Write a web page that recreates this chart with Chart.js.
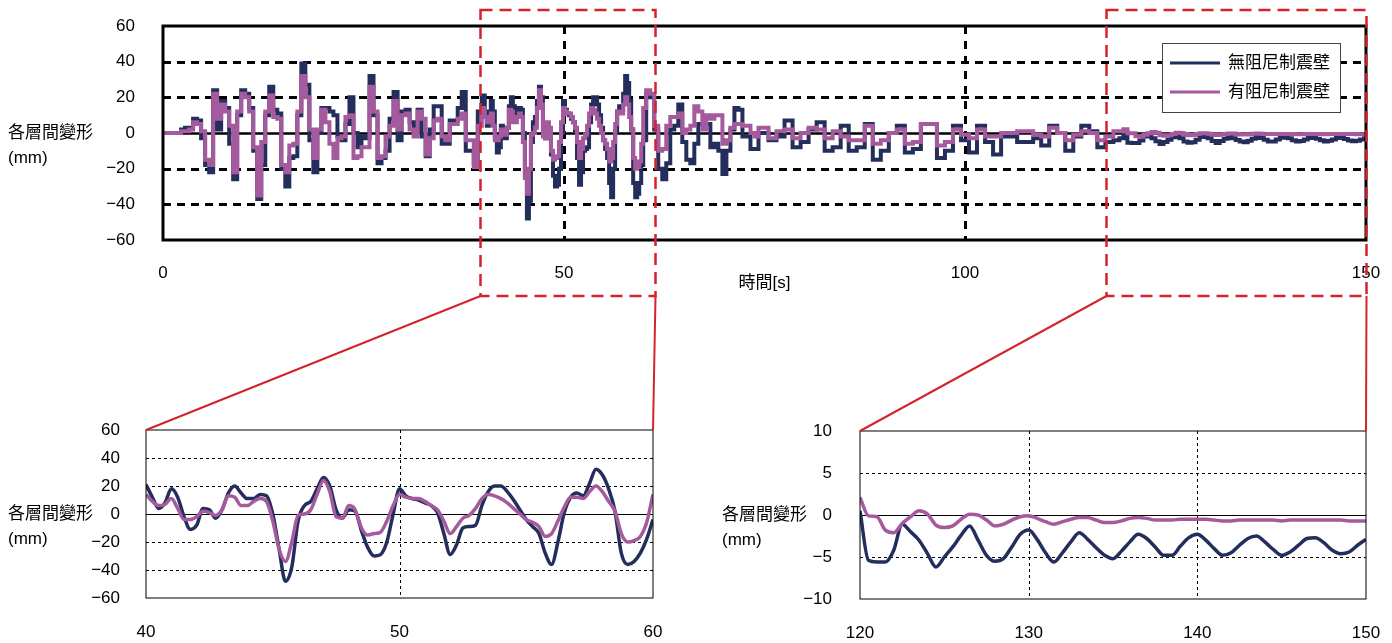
<!DOCTYPE html>
<html>
<head>
<meta charset="utf-8">
<script src="https://cdn.jsdelivr.net/npm/chart.js@4.4.1/dist/chart.umd.min.js"></script>
<style>
body { margin: 0; background: #fff; }
#wrap { position: relative; width: 1392px; height: 643px; overflow: hidden; }
canvas { position: absolute; }
#topChart { left: 0; top: 0; }
#zoomA { left: 0; top: 400px; }
#zoomB { left: 700px; top: 400px; }
#overlay { left: 0; top: 0; pointer-events: none; }
</style>
</head>
<body>
<div id="wrap">
<canvas id="topChart" width="1392" height="300"></canvas>
<canvas id="zoomA" width="690" height="243"></canvas>
<canvas id="zoomB" width="692" height="243"></canvas>
<canvas id="overlay" width="1392" height="643"></canvas>
</div>
<script>
// series names
var labelA = "無阻尼制震壁";
var labelB = "有阻尼制震壁";

// 0 - 39.5 s
var t0 = [0,0.5,1,1.5,2,2.5,3,3.5,4,4.5,5,5.5,6,6.5,7,7.5,8,8.5,9,9.5,
  10,10.5,11,11.5,12,12.5,13,13.5,14,14.5,15,15.5,16,16.5,17,17.5,18,18.5,19,19.5,
  20,20.5,21,21.5,22,22.5,23,23.5,24,24.5,25,25.5,26,26.5,27,27.5,28,28.5,29,29.5,
  30,30.5,31,31.5,32,32.5,33,33.5,34,34.5,35,35.5,36,36.5,37,37.5,38,38.5,39,39.5];
var a0 = [0,0,0,0,0,2,3,3,8,7,-3,-18,-22,24,2,18,14,-6,-26,10,
  24,22,14,-10,-37,-18,10,26,13,11,-20,-30,-14,-13,10,39,27,-4,-22,0,
  14,14,12,10,-2,-4,5,20,0,-8,-2,-3,32,10,-17,-14,-10,8,23,-4,
  12,13,6,0,13,-2,-13,2,15,15,-6,-6,7,7,14,23,-10,-10,-17,12];
var b0 = [0,0,0,0,0,1,1,2,6,5,1,-15,-18,22,8,16,12,4,-22,12,
  22,20,12,-8,-35,-5,12,21,9,8,-18,-22,-7,-6,12,32,20,2,-14,2,
  13,6,-6,-14,-3,-2,9,10,-14,-13,-8,-8,26,12,-14,-13,-2,4,18,2,
  10,11,2,-2,12,8,-12,-3,7,8,-2,-4,5,5,8,11,-4,-4,-19,4];

// 40 - 60 s
var t1 = [40,40.25,40.5,40.75,41,41.25,41.5,41.75,42,42.25,42.5,42.75,43,43.25,43.5,43.75,
  44,44.25,44.5,44.75,45,45.25,45.5,45.75,46,46.25,46.5,46.75,47,47.25,47.5,47.75,
  48,48.25,48.5,48.75,49,49.25,49.5,49.75,50,50.25,50.5,50.75,51,51.25,51.5,51.75,
  52,52.25,52.5,52.75,53,53.25,53.5,53.75,54,54.25,54.5,54.75,55,55.25,55.5,55.75,
  56,56.25,56.5,56.75,57,57.25,57.5,57.75,58,58.25,58.5,58.75,59,59.25,59.5,59.75,60];
var a1 = [21,12,4,8,18,12,-2,-11,-8,4,3,-3,3,15,20,15,
  11,11,14,13,0,-25,-48,-38,-5,6,9,18,26,20,3,-3,
  3,2,-12,-24,-30,-29,-20,0,18,13,11,10,8,6,1,-14,
  -29,-22,-10,-9,-8,6,16,20,20,16,10,3,-4,-9,-14,-28,
  -36,-20,1,12,15,13,22,32,28,18,2,-28,-36,-34,-28,-18,-4];
var b1 = [14,9,6,7,11,4,-4,-4,-2,2,1,-1,3,13,12,6,
  6,9,11,9,-5,-25,-34,-20,-1,0,3,14,24,16,-2,-3,
  6,3,-10,-15,-14,-13,-5,6,14,12,11,11,9,6,3,-5,
  -14,-9,-3,-1,4,11,14,13,11,8,4,0,-4,-6,-9,-16,
  -14,-5,5,12,12,11,16,20,16,9,2,-14,-20,-19,-16,-6,14];

// 60.5 - 119.5 s
var t2 = [60.5,61,61.5,62,62.5,63,63.5,64,64.5,65,65.5,66,66.5,67,67.5,68,68.5,69,69.5,70,
  70.5,71,71.5,72,72.5,73,73.5,74,74.5,75,
  76,77,78,79,80,81,82,83,84,85,86,87,88,89,90,91,92,93,94,95,96,97,98,99,
  100,101,102,103,104,105,106,107,108,109,110,111,112,113,114,115,116,117,118,119,119.5];
var a2 = [22,20,2,-20,-26,-17,2,4,16,-5,-15,-17,-6,5,5,5,-8,-6,-10,-23,
  -10,2,14,13,-2,-2,-9,-9,0,0,
  -4,-2,7,-8,-5,2,6,-10,-8,4,-10,-8,5,-15,-10,0,4,-11,-9,5,5,-14,-10,4,
  -4,-11,4,-5,-12,-2,-2,-5,-5,-3,-7,4,0,-10,-2,4,1,-8,-5,-4,-3];
var b2 = [24,22,4,-10,-9,4,9,9,11,0,2,4,15,12,2,10,8,10,10,-6,
  -4,3,5,5,4,4,0,-2,3,3,
  -3,1,2,-3,0,3,2,-3,1,-2,-4,-4,4,-6,-4,0,2,-6,-5,5,5,-7,-5,2,
  -1,-3,2,-2,-2,0,0,1,1,-1,-2,3,0,-4,-1,1,0,-4,-2,1,1];

// 120 - 150 s
var t3 = [120,120.5,121,121.5,122,122.5,123,123.5,124,124.5,125,125.5,126,126.5,127,127.5,
  128,128.5,129,129.5,130,130.5,131,131.5,132,132.5,133,133.5,134,134.5,135,135.5,
  136,136.5,137,137.5,138,138.5,139,139.5,140,140.5,141,141.5,142,142.5,143,143.5,
  144,144.5,145,145.5,146,146.5,147,147.5,148,148.5,149,149.5,150];
var a3 = [0.5,-5.4,-5.6,-5.6,-4.2,-1.1,-2.0,-3.0,-4.6,-6.2,-5.0,-3.8,-2.4,-1.3,-3.0,-4.8,
  -5.5,-5.2,-3.8,-2.3,-1.8,-2.9,-4.5,-5.6,-4.5,-3.2,-2.1,-2.9,-3.9,-4.8,-5.2,-4.3,
  -3.2,-2.3,-2.8,-3.8,-4.8,-4.8,-3.7,-2.7,-2.3,-3.0,-4.0,-4.8,-4.5,-3.6,-2.8,-2.5,
  -3.2,-4.1,-4.8,-4.4,-3.6,-2.8,-2.7,-3.3,-4.2,-4.6,-4.4,-3.6,-2.9];
var b3 = [2.1,-0.1,-0.2,-1.8,-2.1,-1.0,-0.2,0.5,0.1,-1.2,-1.5,-1.3,-0.5,0.1,0.0,-0.6,
  -1.3,-1.1,-0.6,-0.2,-0.1,-0.4,-0.8,-1.1,-0.8,-0.5,-0.3,-0.3,-0.6,-0.9,-0.9,-0.7,
  -0.4,-0.3,-0.4,-0.6,-0.6,-0.6,-0.5,-0.5,-0.5,-0.5,-0.6,-0.7,-0.7,-0.6,-0.6,-0.6,
  -0.6,-0.6,-0.7,-0.6,-0.6,-0.6,-0.6,-0.6,-0.6,-0.6,-0.7,-0.7,-0.7];

var time = t0.concat(t1, t2, t3);
var seriesA = a0.concat(a1, a2, a3);
var seriesB = b0.concat(b1, b2, b3);

var NAVY = "#232e5c";
var PURPLE = "#a65a9e";
var RED = "#d3242c";
var FONT = "'Liberation Sans', 'Noto Sans CJK TC', sans-serif";

function pts(vals, lo, hi) {
  var out = [];
  for (var i = 0; i < time.length; i++) {
    if (time[i] >= lo && time[i] <= hi) out.push({x: time[i], y: vals[i]});
  }
  return out;
}

function minus(v) {
  return String(v).replace("-", "\u2212");
}

var framePlugin = {
  id: "frame",
  beforeDatasetsDraw: function(chart, args, o) {
    var ctx = chart.ctx, a = chart.chartArea, x = chart.scales.x, y = chart.scales.y;
    ctx.save();
    ctx.strokeStyle = "#000";
    ctx.lineWidth = o.gridWidth;
    ctx.setLineDash(o.hDash);
    o.yLines.forEach(function(v) {
      var py = Math.round(y.getPixelForValue(v)) + 0.5;
      ctx.beginPath(); ctx.moveTo(a.left, py); ctx.lineTo(a.right, py); ctx.stroke();
    });
    ctx.setLineDash(o.vDash);
    o.xLines.forEach(function(v) {
      var px = Math.round(x.getPixelForValue(v)) + 0.5;
      ctx.beginPath(); ctx.moveTo(px, a.top); ctx.lineTo(px, a.bottom); ctx.stroke();
    });
    ctx.setLineDash([]);
    ctx.lineWidth = o.zeroWidth;
    var zy = Math.round(y.getPixelForValue(0)) + 0.5;
    ctx.beginPath(); ctx.moveTo(a.left, zy); ctx.lineTo(a.right, zy); ctx.stroke();
    ctx.restore();
  },
  afterDatasetsDraw: function(chart, args, o) {
    var ctx = chart.ctx, a = chart.chartArea, y = chart.scales.y;
    ctx.save();
    ctx.strokeStyle = "#000";
    ctx.lineWidth = o.borderWidth;
    ctx.strokeRect(a.left, a.top, a.right - a.left, a.bottom - a.top);
    ctx.fillStyle = "#000";
    ctx.font = "17px " + FONT;
    ctx.textBaseline = "middle";
    ctx.textAlign = "left";
    var zy = y.getPixelForValue(0);
    ctx.fillText("各層間變形", o.titleX, zy);
    ctx.fillText("(mm)", o.titleX, zy + 25);
    if (o.xTitle) {
      ctx.textAlign = "center";
      ctx.fillText(o.xTitle, (a.left + a.right) / 2, a.bottom + 43);
    }
    if (o.legend) {
      var bx = a.right - 204, by = a.top + 17;
      ctx.fillStyle = "#fff";
      ctx.fillRect(bx, by, 178, 69);
      ctx.strokeStyle = "#444";
      ctx.lineWidth = 1;
      ctx.strokeRect(bx + 0.5, by + 0.5, 178, 69);
      chart.data.datasets.forEach(function(ds, i) {
        var ly = by + 20 + i * 29;
        ctx.strokeStyle = ds.borderColor;
        ctx.lineWidth = 3;
        ctx.beginPath(); ctx.moveTo(bx + 8, ly); ctx.lineTo(bx + 58, ly); ctx.stroke();
        ctx.fillStyle = "#000";
        ctx.textAlign = "left";
        ctx.fillText(ds.label, bx + 66, ly);
      });
    }
    ctx.restore();
  }
};

function makeChart(id, c) {
  return new Chart(document.getElementById(id), {
    type: "line",
    data: {
      datasets: [
        { label: labelA, data: pts(seriesA, c.xMin, c.xMax), borderColor: NAVY, borderWidth: c.lw,
          pointRadius: 0, stepped: c.stepped, cubicInterpolationMode: c.cubic, order: 1 },
        { label: labelB, data: pts(seriesB, c.xMin, c.xMax), borderColor: PURPLE, borderWidth: c.lw,
          pointRadius: 0, stepped: c.stepped, cubicInterpolationMode: c.cubic, order: 0 }
      ]
    },
    options: {
      responsive: false,
      animation: false,
      devicePixelRatio: 1,
      layout: { padding: { left: 0, right: c.padRight, top: c.padTop, bottom: 0 } },
      plugins: {
        legend: { display: false },
        tooltip: { enabled: false },
        frame: c.frame
      },
      scales: {
        x: {
          type: "linear", min: c.xMin, max: c.xMax,
          grid: { display: false, drawTicks: false }, border: { display: false },
          ticks: { stepSize: c.xStep, padding: c.xPad, color: "#000", maxRotation: 0, autoSkip: false,
            font: { family: FONT, size: 17 }, callback: minus },
          afterFit: function(s) { s.height = c.xHeight; s.paddingLeft = 0; s.paddingRight = 0; }
        },
        y: {
          min: c.yMin, max: c.yMax,
          grid: { display: false, drawTicks: false }, border: { display: false },
          ticks: { stepSize: c.yStep, padding: c.yPad, color: "#000",
            font: { family: FONT, size: 17 }, callback: minus },
          afterFit: function(s) { s.width = c.yWidth; s.paddingTop = 0; s.paddingBottom = 0; }
        }
      }
    },
    plugins: [framePlugin]
  });
}

var topChart = makeChart("topChart", {
  xMin: 0, xMax: 150, xStep: 50, yMin: -60, yMax: 60, yStep: 20,
  lw: 4, stepped: "middle", cubic: "default",
  padRight: 26, padTop: 26, xHeight: 60, yWidth: 163, xPad: 23, yPad: 28,
  frame: { yLines: [-40, -20, 20, 40], xLines: [50, 100], hDash: [8, 6], vDash: [8, 7],
    gridWidth: 3, zeroWidth: 2.5, borderWidth: 3, titleX: 8, xTitle: "時間[s]", legend: true }
});

var zoomA = makeChart("zoomA", {
  xMin: 40, xMax: 60, xStep: 10, yMin: -60, yMax: 60, yStep: 20,
  lw: 3.5, stepped: false, cubic: "monotone",
  padRight: 37, padTop: 30, xHeight: 45, yWidth: 146, xPad: 24, yPad: 26,
  frame: { yLines: [-40, -20, 20, 40], xLines: [50], hDash: [3, 3], vDash: [3, 3],
    gridWidth: 1, zeroWidth: 1, borderWidth: 1, titleX: 8 }
});

var zoomB = makeChart("zoomB", {
  xMin: 120, xMax: 150, xStep: 10, yMin: -10, yMax: 10, yStep: 5,
  lw: 3.5, stepped: false, cubic: "monotone",
  padRight: 26, padTop: 31, xHeight: 44, yWidth: 160, xPad: 24, yPad: 28,
  frame: { yLines: [-5, 5], xLines: [130, 140], hDash: [3, 3], vDash: [3, 3],
    gridWidth: 1, zeroWidth: 1, borderWidth: 1, titleX: 22 }
});

// red zoom boxes and connector lines
var ov = document.getElementById("overlay").getContext("2d");
var tx = topChart.scales.x;
var ta = topChart.chartArea;
var boxes = [
  { from: 39.5, to: 61.3, chart: zoomA, left: 0, top: 400 },
  { from: 117.6, to: 150, chart: zoomB, left: 700, top: 400 }
];
ov.strokeStyle = RED;
boxes.forEach(function(b) {
  var x1 = Math.round(tx.getPixelForValue(b.from)) + 0.5;
  var x2 = Math.round(tx.getPixelForValue(b.to)) + 0.5;
  var y1 = ta.top - 16, y2 = ta.bottom + 56;
  ov.lineWidth = 2.5;
  ov.setLineDash([12, 7]);
  ov.strokeRect(x1, y1, x2 - x1, y2 - y1);
  var za = b.chart.chartArea;
  ov.setLineDash([]);
  ov.lineWidth = 2;
  ov.beginPath();
  ov.moveTo(x1, y2); ov.lineTo(b.left + za.left, b.top + za.top);
  ov.moveTo(x2, y2); ov.lineTo(b.left + za.right, b.top + za.top);
  ov.stroke();
});
</script>
</body>
</html>
